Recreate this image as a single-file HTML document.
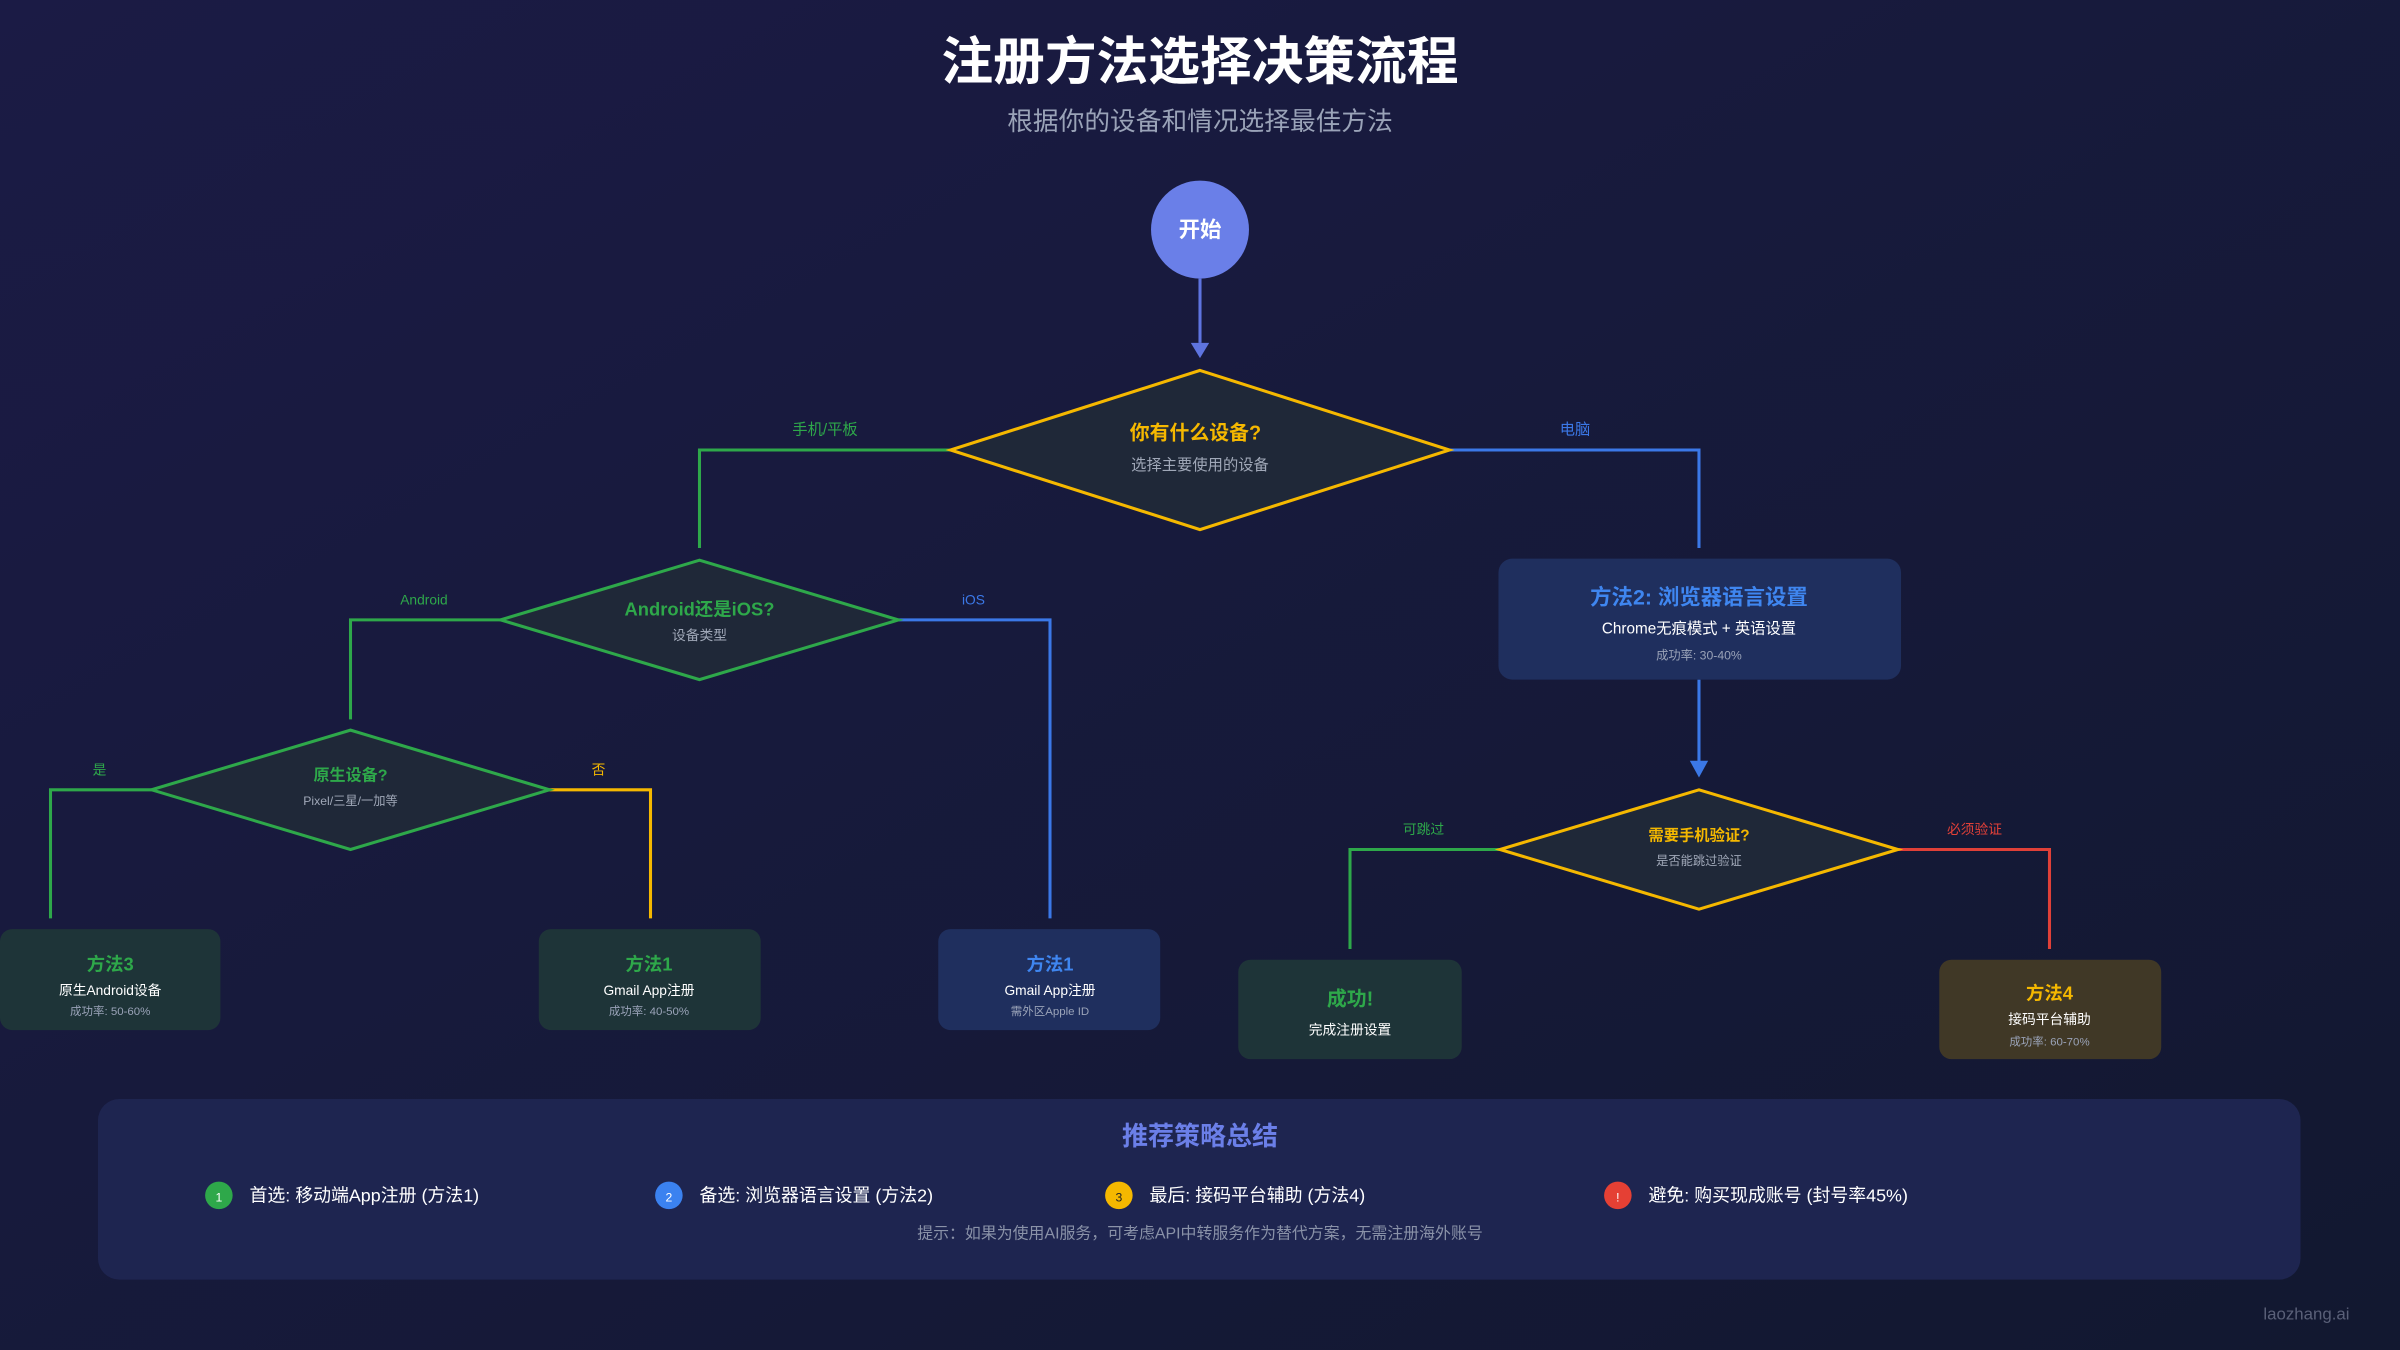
<!DOCTYPE html>
<html><head><meta charset="utf-8"><style>
html,body{margin:0;padding:0;width:2400px;height:1350px;overflow:hidden;background:#161a3a}
svg{display:block}
text{font-family:"Liberation Sans","Noto Sans CJK SC",sans-serif}
</style></head><body>
<svg width="2400" height="1350" viewBox="0 0 1568 882" xmlns="http://www.w3.org/2000/svg">
<defs>
<linearGradient id="bg" x1="0" y1="0" x2="1" y2="1">
<stop offset="0" stop-color="#1b1b45"/><stop offset="1" stop-color="#121830"/>
</linearGradient>
</defs>
<rect width="1568" height="882" fill="url(#bg)"/>
<text x="784" y="52" text-anchor="middle" font-size="33.8" font-weight="bold" fill="#fff">注册方法选择决策流程</text>
<text x="784" y="85" text-anchor="middle" font-size="16.8" fill="#9aa3b8">根据你的设备和情况选择最佳方法</text>

<circle cx="784" cy="150" r="32" fill="#6a7fe8"/>
<text x="784" y="155" text-anchor="middle" font-size="14" font-weight="bold" fill="#fff">开始</text>
<line x1="784" y1="182" x2="784" y2="224" stroke="#5e74e0" stroke-width="2"/>
<polygon points="778,224 790,224 784,234" fill="#5e74e0"/>

<g stroke-width="2" fill="none">
<polyline points="621,294 457,294 457,358" stroke="#2ea84a"/>
<polyline points="947,294 1110,294 1110,358" stroke="#3b78e7"/>
<polyline points="327,405 229,405 229,470" stroke="#2ea84a"/>
<polyline points="587,405 686,405 686,600" stroke="#3b78e7"/>
<polyline points="99,516 33,516 33,600" stroke="#2ea84a"/>
<polyline points="359,516 425,516 425,600" stroke="#f5b800"/>
<polyline points="980,555 882,555 882,620" stroke="#2ea84a"/>
<polyline points="1240,555 1339,555 1339,620" stroke="#e04038"/>
<line x1="1110" y1="444" x2="1110" y2="498" stroke="#3b78e7"/>
</g>
<polygon points="1104,497 1116,497 1110,508" fill="#3b78e7"/>

<g font-size="10">
<text x="539" y="284" text-anchor="middle" fill="#2ea84a">手机/平板</text>
<text x="1029" y="284" text-anchor="middle" fill="#3b78e7">电脑</text>
<text x="277" y="395" text-anchor="middle" fill="#2ea84a" font-size="9">Android</text>
<text x="636" y="395" text-anchor="middle" fill="#3b78e7" font-size="9">iOS</text>
<text x="65" y="506" text-anchor="middle" fill="#2ea84a" font-size="9">是</text>
<text x="391" y="506" text-anchor="middle" fill="#f5b800" font-size="9">否</text>
<text x="930" y="545" text-anchor="middle" fill="#2ea84a" font-size="9">可跳过</text>
<text x="1290" y="545" text-anchor="middle" fill="#e04038" font-size="9">必须验证</text>
</g>

<polygon points="784,242 947,294 784,346 621,294" fill="#1f2838" stroke="#f5b800" stroke-width="2"/>
<text x="781" y="287" text-anchor="middle" font-size="13" font-weight="bold" fill="#f5b800">你有什么设备?</text>
<text x="784" y="307" text-anchor="middle" font-size="10" fill="#a0a8b8">选择主要使用的设备</text>

<polygon points="457,366 587,405 457,444 327,405" fill="#1f2838" stroke="#2ea84a" stroke-width="2"/>
<text x="457" y="402" text-anchor="middle" font-size="12" font-weight="bold" fill="#2ea84a">Android还是iOS?</text>
<text x="457" y="418" text-anchor="middle" font-size="9" fill="#a0a8b8">设备类型</text>

<polygon points="229,477 359,516 229,555 99,516" fill="#1f2838" stroke="#2ea84a" stroke-width="2"/>
<text x="229" y="510" text-anchor="middle" font-size="10.5" font-weight="bold" fill="#2ea84a">原生设备?</text>
<text x="229" y="526" text-anchor="middle" font-size="8" fill="#a0a8b8">Pixel/三星/一加等</text>

<polygon points="1110,516 1240,555 1110,594 980,555" fill="#1f2838" stroke="#f5b800" stroke-width="2"/>
<text x="1110" y="549" text-anchor="middle" font-size="10" font-weight="bold" fill="#f5b800">需要手机验证?</text>
<text x="1110" y="565" text-anchor="middle" font-size="8" fill="#a0a8b8">是否能跳过验证</text>

<rect x="979" y="365" width="263" height="79" rx="9" fill="#1f2f5e"/>
<text x="1110" y="395" text-anchor="middle" font-size="14" font-weight="bold" fill="#3f86f0">方法2: 浏览器语言设置</text>
<text x="1110" y="414" text-anchor="middle" font-size="10" fill="#fff">Chrome无痕模式 + 英语设置</text>
<text x="1110" y="431" text-anchor="middle" font-size="8" fill="#9aa3b8">成功率: 30-40%</text>

<rect x="0" y="607" width="144" height="66" rx="8" fill="#1e3438"/>
<text x="72" y="634" text-anchor="middle" font-size="12" font-weight="bold" fill="#2ea84a">方法3</text>
<text x="72" y="650" text-anchor="middle" font-size="9" fill="#fff">原生Android设备</text>
<text x="72" y="663" text-anchor="middle" font-size="7.5" fill="#9aa3b8">成功率: 50-60%</text>

<rect x="352" y="607" width="145" height="66" rx="8" fill="#1e3438"/>
<text x="424" y="634" text-anchor="middle" font-size="12" font-weight="bold" fill="#2ea84a">方法1</text>
<text x="424" y="650" text-anchor="middle" font-size="9" fill="#fff">Gmail App注册</text>
<text x="424" y="663" text-anchor="middle" font-size="7.5" fill="#9aa3b8">成功率: 40-50%</text>

<rect x="613" y="607" width="145" height="66" rx="8" fill="#1f2f5e"/>
<text x="686" y="634" text-anchor="middle" font-size="12" font-weight="bold" fill="#3f86f0">方法1</text>
<text x="686" y="650" text-anchor="middle" font-size="9" fill="#fff">Gmail App注册</text>
<text x="686" y="663" text-anchor="middle" font-size="7.5" fill="#9aa3b8">需外区Apple ID</text>

<rect x="809" y="627" width="146" height="65" rx="8" fill="#1e3438"/>
<text x="882" y="657" text-anchor="middle" font-size="13" font-weight="bold" fill="#2ea84a">成功!</text>
<text x="882" y="676" text-anchor="middle" font-size="9" fill="#fff">完成注册设置</text>

<rect x="1267" y="627" width="145" height="65" rx="8" fill="#403826"/>
<text x="1339" y="653" text-anchor="middle" font-size="12" font-weight="bold" fill="#f5b800">方法4</text>
<text x="1339" y="669" text-anchor="middle" font-size="9" fill="#fff">接码平台辅助</text>
<text x="1339" y="683" text-anchor="middle" font-size="7.5" fill="#9aa3b8">成功率: 60-70%</text>

<rect x="64" y="718" width="1439" height="118" rx="14" fill="#1e2550"/>
<text x="784" y="748" text-anchor="middle" font-size="17" font-weight="bold" fill="#6b7fe8">推荐策略总结</text>
<g font-size="11.7" fill="#fff">
<circle cx="143" cy="781" r="9" fill="#2ea84a"/><text x="143" y="785" text-anchor="middle" font-size="8">1</text>
<text x="163" y="785">首选: 移动端App注册 (方法1)</text>
<circle cx="437" cy="781" r="9" fill="#3b82f0"/><text x="437" y="785" text-anchor="middle" font-size="8">2</text>
<text x="457" y="785">备选: 浏览器语言设置 (方法2)</text>
<circle cx="731" cy="781" r="9" fill="#f5b800"/><text x="731" y="785" text-anchor="middle" font-size="8" fill="#222">3</text>
<text x="751" y="785">最后: 接码平台辅助 (方法4)</text>
<circle cx="1057" cy="781" r="9" fill="#e54034"/><text x="1057" y="785" text-anchor="middle" font-size="8">!</text>
<text x="1077" y="785">避免: 购买现成账号 (封号率45%)</text>
</g>
<text x="784" y="809" text-anchor="middle" font-size="10.4" fill="#8a92a8">提示：如果为使用AI服务，可考虑API中转服务作为替代方案，无需注册海外账号</text>
<text x="1535" y="862" text-anchor="end" font-size="11" fill="#5a6078">laozhang.ai</text>
</svg>
</body></html>
